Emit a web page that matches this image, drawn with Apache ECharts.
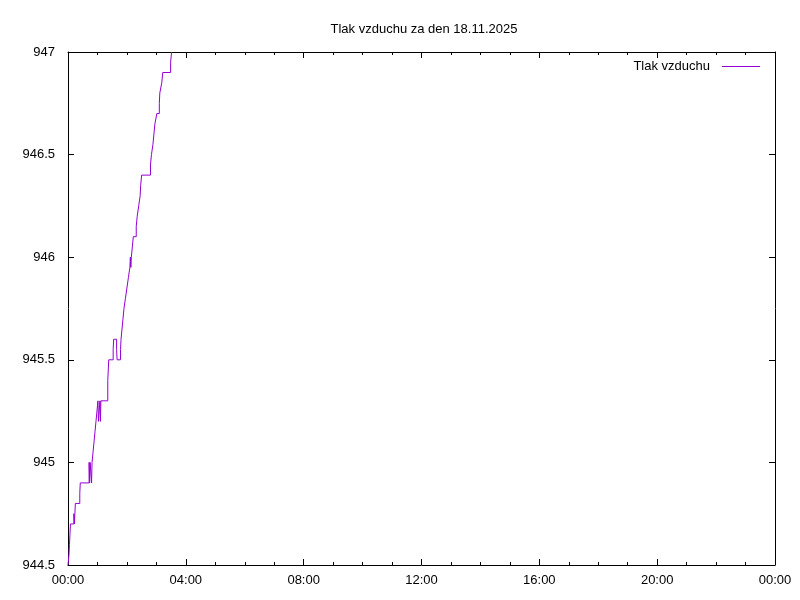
<!DOCTYPE html>
<html>
<head>
<meta charset="utf-8">
<script src="https://cdn.jsdelivr.net/npm/echarts@6/dist/echarts.min.js"></script>
<style>
  html, body { margin: 0; padding: 0; background: #fff; }
  #chart { width: 800px; height: 600px; }
</style>
</head>
<body>
<div id="chart"></div>
<script>
// casy mereni
const times = [
  '00:00', '00:02', '00:03', '00:04', '00:05', '00:12', '00:13', '00:14', '00:15', '00:24',
  '00:25', '00:43', '00:44', '00:45', '00:48', '00:49', '00:51', '00:53', '00:55', '00:57',
  '01:01', '01:02', '01:05', '01:06', '01:07', '01:21', '01:22', '01:23', '01:32', '01:33',
  '01:39', '01:40', '01:47', '01:48', '01:50', '01:52', '01:54', '01:57', '02:00', '02:03',
  '02:06', '02:07', '02:08', '02:09', '02:11', '02:13', '02:19', '02:21', '02:24', '02:27',
  '02:28', '02:30', '02:48', '02:50', '02:53', '02:55', '02:57', '03:01', '03:06', '03:07',
  '03:11', '03:13', '03:29', '03:31'
];
// tlak (hPa)
const pressure = [
  944.5, 944.55, 944.6, 944.65, 944.7, 944.75, 944.7, 944.75, 944.8, 944.85,
  944.9, 945.0, 944.9, 945.0, 944.9, 945.0, 945.05, 945.1, 945.15, 945.2,
  945.3, 945.2, 945.3, 945.2, 945.3, 945.4, 945.45, 945.5, 945.55, 945.6,
  945.55, 945.5, 945.55, 945.6, 945.65, 945.7, 945.75, 945.8, 945.85, 945.9,
  945.95, 946.0, 945.95, 946.0, 946.05, 946.1, 946.15, 946.2, 946.25, 946.3,
  946.35, 946.4, 946.45, 946.5, 946.55, 946.6, 946.65, 946.7, 946.75, 946.8,
  946.85, 946.9, 946.95, 947.0
];
const yTicks = ['944.5', '945', '945.5', '946', '946.5', '947'];
const xTicks = ['00:00', '04:00', '08:00', '12:00', '16:00', '20:00', '00:00'];

const toMin = (t) => {
  const p = t.split(':');
  return +p[0] * 60 + +p[1];
};
const data = times.map((t, i) => [toMin(t), pressure[i]]);

const font = 'Liberation Sans, Arial, sans-serif';
const baseX = {
  type: 'value', min: 0, max: 1440, interval: 240,
  axisLine: { show: true, onZero: false, lineStyle: { color: '#000', width: 1 } },
  axisTick: { show: true, inside: true, length: 6, lineStyle: { color: '#000' } },
  minorTick: { show: true, splitNumber: 4, length: 3, lineStyle: { color: '#000' } },
  splitLine: { show: false }
};
const baseY = {
  type: 'value', min: 944.5, max: 947, interval: 0.5,
  axisLine: { show: true, onZero: false, lineStyle: { color: '#000', width: 1 } },
  axisTick: { show: true, inside: true, length: 6, lineStyle: { color: '#000' } },
  splitLine: { show: false }
};

const myChart = echarts.init(document.getElementById('chart'));
const option = {
  animation: false,
  backgroundColor: '#fff',
  title: {
    text: 'Tlak vzduchu za den 18.11.2025',
    left: 419, top: 18, textAlign: 'center',
    textStyle: { fontFamily: font, fontSize: 13, fontWeight: 'normal', color: '#000' }
  },
  legend: {
    right: 35, top: 55, align: 'right',
    itemWidth: 38, itemHeight: 1, itemGap: 5,
    data: [{ name: 'Tlak vzduchu', icon: 'rect' }],
    textStyle: { fontFamily: font, fontSize: 13, color: '#000', padding: [0, 7, 0, 0] }
  },
  grid: { left: 68, right: 25, top: 52, bottom: 35, containLabel: false },
  xAxis: [
    Object.assign({}, baseX, {
      position: 'bottom',
      axisLabel: {
        fontFamily: font, fontSize: 13, color: '#000', margin: 9,
        formatter: (v) => xTicks[Math.round(v / 240)]
      }
    }),
    Object.assign({}, baseX, { position: 'top', axisLabel: { show: false } })
  ],
  yAxis: [
    Object.assign({}, baseY, {
      position: 'left',
      axisLabel: {
        fontFamily: font, fontSize: 13, color: '#000', margin: 13,
        formatter: (v) => yTicks[Math.round((v - 944.5) / 0.5)]
      }
    }),
    Object.assign({}, baseY, { position: 'right', axisLabel: { show: false } })
  ],
  series: [
    {
      name: 'Tlak vzduchu',
      type: 'line',
      step: 'end',
      data: data,
      showSymbol: false,
      symbol: 'none',
      clip: true,
      color: '#9400d3',
      lineStyle: { width: 1, color: '#9400d3' }
    }
  ]
};
myChart.setOption(option);
</script>
</body>
</html>
